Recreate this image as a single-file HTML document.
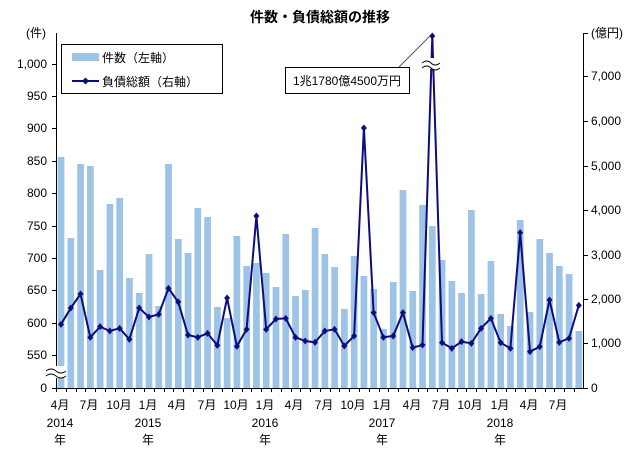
<!DOCTYPE html>
<html><head><meta charset="utf-8"><style>
body{margin:0;background:#fff;}
svg{display:block;font-family:"Liberation Sans","Noto Sans CJK JP",sans-serif;}
</style></head><body>
<svg id="c" width="640" height="455" viewBox="0 0 640 455" xmlns="http://www.w3.org/2000/svg">
<rect width="640" height="455" fill="#fff"/>
<text x="320" y="22" font-size="14" font-weight="bold" text-anchor="middle">件数・負債総額の推移</text>
<g id="bars" fill="#9dc3e6"></g>
<g stroke="#000" stroke-width="1" fill="none">
<path d="M56.5 33 V388.5 H583.5 V33"/>
<path d="M52 64.5h4.5M52 96.5h4.5M52 128.5h4.5M52 161.5h4.5M52 193.5h4.5M52 226.5h4.5M52 258.5h4.5M52 290.5h4.5M52 323.5h4.5M52 355.5h4.5M52 388.5h4.5"/>
<path d="M583.5 33.5h4.5M583.5 76.5h4.5M583.5 121.5h4.5M583.5 166.5h4.5M583.5 210.5h4.5M583.5 255.5h4.5M583.5 299.5h4.5M583.5 343.5h4.5M583.5 388.5h4.5"/>
<path id="xt" d=""/>
</g>
<g font-size="12" text-anchor="end">
<text x="47" y="68">1,000</text><text x="47" y="100">950</text><text x="47" y="132">900</text><text x="47" y="165">850</text><text x="47" y="197">800</text><text x="47" y="230">750</text><text x="47" y="262">700</text><text x="47" y="294">650</text><text x="47" y="327">600</text><text x="47" y="359">550</text><text x="47" y="392">0</text>
<text x="46" y="37">(件)</text>
</g>
<g font-size="12" text-anchor="start">
<text x="591" y="80">7,000</text><text x="591" y="125">6,000</text><text x="591" y="170">5,000</text><text x="591" y="214">4,000</text><text x="591" y="259">3,000</text><text x="591" y="303">2,000</text><text x="591" y="347">1,000</text><text x="591" y="392">0</text>
<text x="591" y="37">(億円)</text>
</g>
<g font-size="12" text-anchor="middle">
<text x="60" y="409">4月</text><text x="89" y="409">7月</text><text x="119" y="409">10月</text><text x="148" y="409">1月</text><text x="177" y="409">4月</text><text x="207" y="409">7月</text><text x="236" y="409">10月</text><text x="265" y="409">1月</text><text x="294" y="409">4月</text><text x="324" y="409">7月</text><text x="353" y="409">10月</text><text x="382" y="409">1月</text><text x="412" y="409">4月</text><text x="441" y="409">7月</text><text x="470" y="409">10月</text><text x="500" y="409">1月</text><text x="529" y="409">4月</text><text x="558" y="409">7月</text>
<text x="60" y="427">2014</text><text x="60" y="444">年</text>
<text x="148" y="427">2015</text><text x="148" y="444">年</text>
<text x="265" y="427">2016</text><text x="265" y="444">年</text>
<text x="382" y="427">2017</text><text x="382" y="444">年</text>
<text x="500" y="427">2018</text><text x="500" y="444">年</text>
</g>
<path id="ln" fill="none" stroke="#0d0d80" stroke-width="2"/>
<g id="mk" fill="#0d0d80"></g>
<rect x="45" y="366" width="22" height="12" fill="#fff"/>
<path d="M46 371 q5 -4 10 0 t10 0 M46 376 q5 -4 10 0 t10 0" stroke="#000" fill="none"/>
<rect x="421" y="58" width="20" height="11" fill="#fff"/>
<path d="M422 63 q5 -4 9 0 t9 0 M422 68 q5 -4 9 0 t9 0" stroke="#000" fill="none"/>
<line x1="399" y1="67" x2="430" y2="36" stroke="#555"/>
<rect x="285.5" y="67.5" width="124" height="26" fill="#fff" stroke="#000"/>
<text x="347" y="85" font-size="12" text-anchor="middle">1兆1780億4500万円</text>
<rect x="61.5" y="44.5" width="161" height="49" fill="#fff" stroke="#000"/>
<rect x="72" y="53" width="27" height="8" fill="#9dc3e6"/>
<text x="102" y="62" font-size="12">件数（左軸）</text>
<line x1="72" y1="81" x2="99" y2="81" stroke="#0d0d80" stroke-width="2"/>
<path d="M85.5 77.5l3.5 3.5-3.5 3.5-3.5-3.5z" fill="#0d0d80"/>
<text x="102" y="86" font-size="12">負債総額（右軸）</text>
</svg>
<script>
(function(){
var bz=[381,624,402,408,720,522,504,744,789,672,828,402,627,669,534,561,831,864,618,708,699,729,771,612,798,780,594,672,711,837,678,738,777,897,756,480,783,525,588,690,753,789,540,792,693,852,888,570,846,627,669,708,732,903];
var lz=[883,834,792,922,890,903,895,928,834,861,853,775,816,915,922,910,946,804,949,898,558,898,867,865,922,933,937,903,898,948,918,294,848,922,918,848,953,945,18,938,955,935,940,895,865,938,955,608,965,950,810,937,925,826];
var ns="http://www.w3.org/2000/svg",bars=document.getElementById('bars'),mk=document.getElementById('mk'),d="",xt="";
for(var i=0;i<54;i++){var cx=61+i*9.77;var by=30+bz[i]/3;
var r=document.createElementNS(ns,'rect');r.setAttribute('x',cx-3.3);r.setAttribute('y',by);r.setAttribute('width',6.7);r.setAttribute('height',388-by);bars.appendChild(r);
var y=30+lz[i]/3;d+=(i?"L":"M")+cx.toFixed(1)+" "+y.toFixed(1);
var p=document.createElementNS(ns,'path');p.setAttribute('d','M'+cx+' '+(y-3.5)+'l3 3.5-3 3.5-3-3.5z');mk.appendChild(p);
var tx=Math.round(cx-4.9)+0.5;xt+="M"+tx+" 388V392";}
document.getElementById('ln').setAttribute('d',d);
document.getElementById('xt').setAttribute('d',xt);
})();
</script>
</body></html>
